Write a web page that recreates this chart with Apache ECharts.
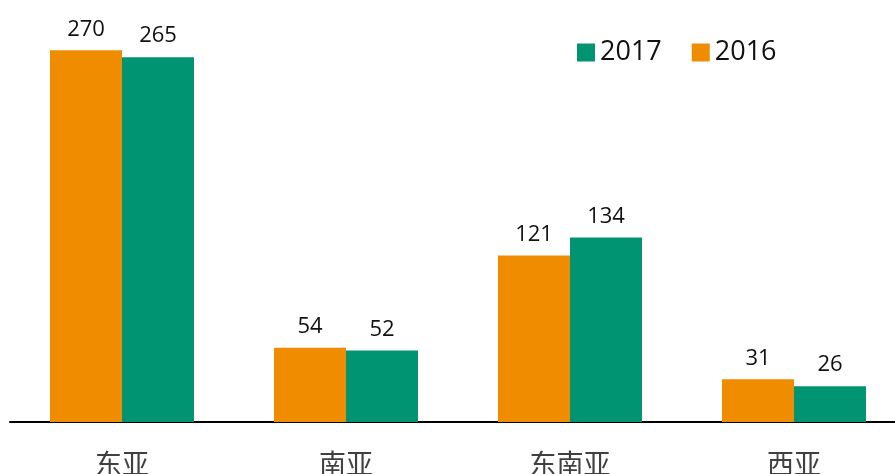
<!DOCTYPE html>
<html>
<head>
<meta charset="utf-8">
<script src="https://cdn.jsdelivr.net/npm/echarts@6/dist/echarts.min.js"></script>
<style>
  html, body { margin: 0; padding: 0; background: #fff; }
  #chart { width: 895px; height: 474px; }
</style>
</head>
<body>
<div id="chart"></div>
<script>
const categories = ['东亚', '南亚', '东南亚', '西亚']
const values2016 = [270, 54, 121, 31]
const values2017 = [265, 52, 134, 26]
const legendNames = ['2017', '2016']

const chart = echarts.init(document.getElementById('chart'))

const labelStyle = {
  show: true,
  position: 'top',
  distance: 10,
  fontSize: 22,
  color: '#111',
  fontFamily: 'Open Sans, Noto Sans, sans-serif'
}

const option = {
  animation: false,
  textStyle: { fontFamily: 'Noto Sans, Noto Sans CJK SC, sans-serif' },
  legend: {
    data: legendNames,
    left: 572,
    top: 34,
    icon: 'rect',
    itemWidth: 18,
    itemHeight: 18,
    itemGap: 30,
    textStyle: { fontSize: 27, color: '#111', fontFamily: 'Open Sans, Noto Sans, sans-serif' }
  },
  grid: {
    left: 10,
    width: 896,
    top: 9,
    bottom: 52,
    containLabel: false,
    outerBoundsMode: 'none'
  },
  xAxis: {
    type: 'category',
    data: categories,
    axisLine: { lineStyle: { color: '#000', width: 2 } },
    axisTick: { show: false },
    axisLabel: {
      fontSize: 27,
      color: '#404040',
      margin: 28,
      fontFamily: 'Noto Sans CJK SC, sans-serif'
    }
  },
  yAxis: {
    type: 'value',
    min: 0,
    max: 300,
    show: false
  },
  series: [
    {
      name: '2016',
      type: 'bar',
      data: values2016,
      barWidth: 72,
      barGap: '0%',
      itemStyle: { color: '#F08C00' },
      label: labelStyle
    },
    {
      name: '2017',
      type: 'bar',
      data: values2017,
      barWidth: 72,
      itemStyle: { color: '#009473' },
      label: labelStyle
    }
  ]
}

chart.setOption(option)
</script>
</body>
</html>
